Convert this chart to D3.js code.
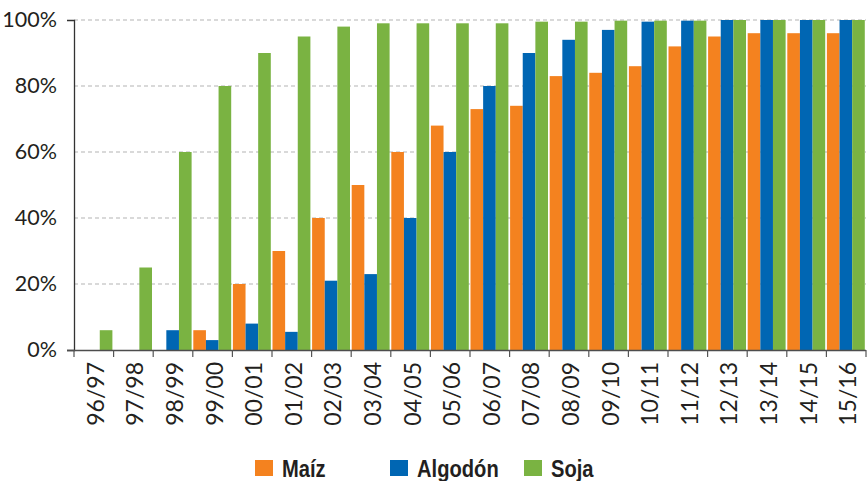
<!DOCTYPE html>
<html>
<head>
<meta charset="utf-8">
<script src="https://cdn.jsdelivr.net/npm/d3@7"></script>
<style>
  html, body { margin: 0; padding: 0; background: #fff; }
  svg { display: block; }
</style>
</head>
<body>
<svg id="chart" width="868" height="481"></svg>
<script>
// Campañas agrícolas
const campaigns = ["96/97","97/98","98/99","99/00","00/01","01/02","02/03","03/04","04/05","05/06",
                   "06/07","07/08","08/09","09/10","10/11","11/12","12/13","13/14","14/15","15/16"];

// Adopción (%) por cultivo
const maiz    = [0, 0, 0, 6, 20, 30, 40, 50, 60, 68, 73, 74, 83, 84, 86, 92, 95, 96, 96, 96];
const algodon = [0, 0, 6, 3, 8, 5.5, 21, 23, 40, 60, 80, 90, 94, 97, 99.5, 99.8, 100, 100, 100, 100];
const soja    = [6, 25, 60, 80, 90, 95, 98, 99, 99, 99, 99, 99.5, 99.5, 99.8, 99.8, 99.8, 100, 100, 100, 100];

const seriesNames = ["Maíz", "Algodón", "Soja"];
const seriesColors = ["#F4821F", "#0066B3", "#7AB342"];
const yTicks = [0, 20, 40, 60, 80, 100];

const svg = d3.select("#chart");
const plot = { left: 74, right: 866, top: 20, bottom: 350 };

const x0 = d3.scaleBand().domain(campaigns).range([plot.left, plot.right]).padding(0);
const x1 = d3.scaleBand().domain(seriesNames).range([0.5, x0.bandwidth() - 1.2]).padding(0);
const y = d3.scaleLinear().domain([0, 100]).range([plot.bottom, plot.top]);
const color = d3.scaleOrdinal().domain(seriesNames).range(seriesColors);

const seriesData = [maiz, algodon, soja];
const rows = campaigns.map((c, i) => ({
  campaign: c,
  values: seriesNames.map((s, k) => ({ name: s, value: seriesData[k][i] }))
}));

// dashed horizontal gridlines
svg.append("g")
  .selectAll("line")
  .data(yTicks.filter(d => d > 0))
  .join("line")
  .attr("x1", plot.left).attr("x2", plot.right)
  .attr("y1", d => y(d)).attr("y2", d => y(d))
  .attr("stroke", "#b3b3b3")
  .attr("stroke-width", 1)
  .attr("stroke-dasharray", "4,3");

// grouped bars
svg.append("g")
  .selectAll("g")
  .data(rows)
  .join("g")
  .attr("transform", d => `translate(${x0(d.campaign)},0)`)
  .selectAll("rect")
  .data(d => d.values)
  .join("rect")
  .attr("x", d => x1(d.name))
  .attr("width", x1.bandwidth())
  .attr("y", d => y(d.value))
  .attr("height", d => y(0) - y(d.value))
  .attr("fill", d => color(d.name));

// y axis
const yAxis = svg.append("g")
  .attr("transform", `translate(${plot.left},0)`)
  .call(d3.axisLeft(y).tickValues(yTicks).tickFormat(d => d + "%")
    .tickSizeInner(0).tickSizeOuter(7).tickPadding(17));
yAxis.select(".domain").attr("stroke", "#333").attr("stroke-width", 1.3);
yAxis.selectAll("text")
  .attr("font-family", "Lato, 'Open Sans', sans-serif")
  .attr("font-size", 21.5)
  .attr("fill", "#231f20");

// x axis baseline
svg.append("line")
  .attr("x1", plot.left - 7).attr("x2", plot.right)
  .attr("y1", plot.bottom + 0.5).attr("y2", plot.bottom + 0.5)
  .attr("stroke", "#4d4d4d").attr("stroke-width", 1.5);

// boundary ticks between campaigns
const boundaries = campaigns.map(c => x0(c)).concat([x0.range()[1]]);
svg.append("g")
  .selectAll("line")
  .data(boundaries)
  .join("line")
  .attr("x1", d => d).attr("x2", d => d)
  .attr("y1", plot.bottom).attr("y2", plot.bottom + 7)
  .attr("stroke", "#555").attr("stroke-width", 1.2);

// rotated campaign labels
svg.append("g")
  .selectAll("text")
  .data(campaigns)
  .join("text")
  .attr("transform", d => `translate(${x0(d) + x0.bandwidth() / 2 + 10},${plot.bottom + 12}) rotate(-90)`)
  .attr("text-anchor", "end")
  .attr("font-family", "Lato, 'Open Sans', sans-serif")
  .attr("font-size", 23)
  .attr("fill", "#231f20")
  .text(d => d);

// legend (condensed bold labels)
const legendX = [255, 390, 524];
const legend = svg.append("g")
  .selectAll("g")
  .data(seriesNames)
  .join("g")
  .attr("transform", (d, i) => `translate(${legendX[i]},460)`);
legend.append("rect")
  .attr("width", 18).attr("height", 16)
  .attr("fill", d => color(d));
legend.append("text")
  .attr("transform", "translate(27,17) scale(0.84,1)")
  .attr("font-family", "'Liberation Sans', Arial, sans-serif")
  .attr("font-weight", "bold")
  .attr("font-size", 24)
  .attr("fill", "#231f20")
  .text(d => d);
</script>
</body>
</html>
